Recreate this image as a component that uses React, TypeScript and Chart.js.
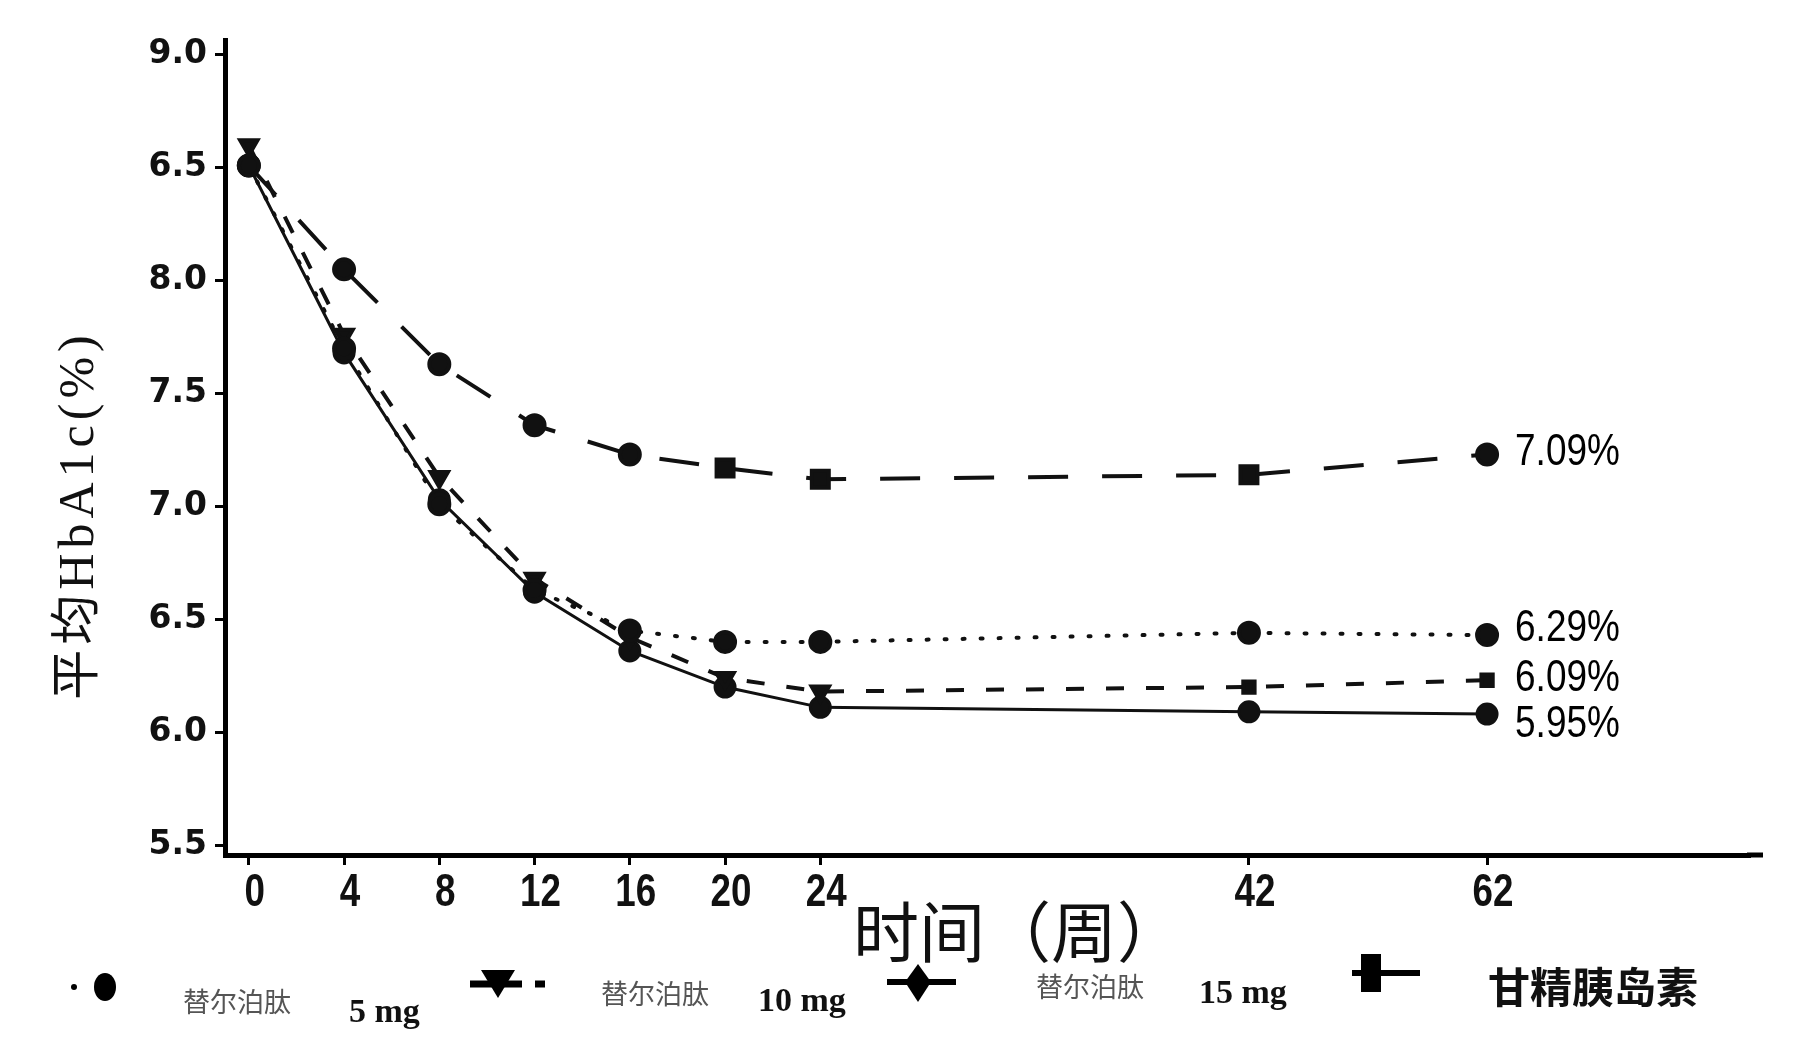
import React, { useEffect, useRef } from 'react';
import { Chart, registerables } from 'chart.js';

Chart.register(...registerables);

// ---- data ----
const weeks = ['0', '4', '8', '12', '16', '20', '24', '42', '62'];
// category slots of two weeks each, so the axis keeps the original spacing
const xLabels = [
  '0', '', '4', '', '8', '', '12', '', '16', '', '20', '', '24',
  '', '', '', '', '', '', '', '',
  '42', '', '', '', '',
  '62', '', '', '', '', '',
];
const yTicks = [5.5, 6.0, 6.5, 7.0, 7.5, 8.0, 8.5, 9.0];
const yTickLabels = ['5.5', '6.0', '6.5', '7.0', '7.5', '8.0', '6.5', '9.0'];

const tirz5mg = [8.51, 7.70, 7.01, 6.63, 6.45, 6.40, 6.40, 6.44, 6.43];
const tirz10mg = [8.60, 7.76, 7.13, 6.68, 6.42, 6.24, 6.18, 6.20, 6.23];
const tirz15mg = [8.51, 7.68, 7.03, 6.62, 6.36, 6.20, 6.11, 6.09, 6.08];
const glargine = [8.51, 8.05, 7.63, 7.36, 7.23, 7.17, 7.12, 7.14, 7.23];
const tirz10Markers = ['triangle', 'triangle', 'triangle', 'triangle', 'triangle', 'triangle', 'triangle', 'rect', 'rect'];
const glargineMarkers = ['circle', 'circle', 'circle', 'circle', 'circle', 'rect', 'rect', 'rect', 'circle'];

const endLabels = ['6.29%', '6.09%', '5.95%', '7.09%'];
const legendDrug = ['替尔泊肽', '替尔泊肽', '替尔泊肽', '甘精胰岛素'];
const legendDose = ['5 mg', '10 mg', '15 mg', ''];
const yTitle = '平均HbA1c(%)';
const xTitle = '时间（周）';

const toSlots = (vals: number[]) => xLabels.map((l) => {
  const k = l === '' ? -1 : weeks.indexOf(l);
  return k >= 0 ? vals[k] : null;
});
const weekIdx = (slot: number) => weeks.indexOf(xLabels[slot]);

const W = 1795;
const H = 1037;

export default function App() {
  const ref = useRef<HTMLCanvasElement | null>(null);

  useEffect(() => {
    if (!ref.current) return;
    const black = '#111';

    const overlay = {
      id: 'overlay',
      afterDatasetsDraw(chart: any) {
        const c = chart.ctx as CanvasRenderingContext2D;
        c.save();
        // end-of-line value labels (narrowed sans)
        const dy = [-6, -1, 11, -2];
        c.fillStyle = '#000';
        c.font = '44px "Liberation Sans", sans-serif';
        c.textAlign = 'left';
        c.textBaseline = 'middle';
        chart.data.datasets.forEach((_d: any, i: number) => {
          const meta = chart.getDatasetMeta(i);
          let last: any = null;
          meta.data.forEach((p: any, j: number) => {
            if (chart.data.datasets[i].data[j] != null) last = p;
          });
          if (last) {
            c.save();
            c.translate(last.x + 28, last.y + dy[i]);
            c.scale(0.84, 1);
            c.fillText(endLabels[i], 0, 0);
            c.restore();
          }
        });
        c.restore();
      },
      afterDraw(chart: any) {
        const c = chart.ctx as CanvasRenderingContext2D;
        const area = chart.chartArea;
        // extend the x axis line to the right
        c.save();
        c.strokeStyle = '#000';
        c.lineWidth = 5;
        c.beginPath(); c.moveTo(area.right - 2, area.bottom); c.lineTo(1763, area.bottom); c.stroke();
        c.restore();

        // x tick labels (tall narrow bold digits)
        const xs = chart.scales.x;
        c.save();
        c.fillStyle = '#111';
        c.font = 'bold 46px "Liberation Sans", sans-serif';
        c.textAlign = 'center';
        c.textBaseline = 'middle';
        xLabels.forEach((t, i) => {
          if (!t) return;
          c.save();
          c.translate(xs.getPixelForTick(i) + 6, 893);
          c.scale(0.8, 1);
          c.fillText(t, 0, 0);
          c.restore();
        });
        c.restore();

        c.save();
        // y title
        c.translate(80, 515);
        c.rotate(-Math.PI / 2);
        c.fillStyle = '#111';
        c.font = '50px "Liberation Serif", "Noto Sans CJK SC", serif';
        (c as any).letterSpacing = '5px';
        c.textAlign = 'center';
        c.textBaseline = 'middle';
        c.fillText(yTitle, 0, 0);
        c.restore();

        c.save();
        c.fillStyle = '#111';
        c.font = '66px "Noto Sans CJK SC", sans-serif';
        c.textAlign = 'center';
        c.textBaseline = 'middle';
        c.fillText(xTitle, 1018, 932);

        // legend
        c.fillStyle = '#000';
        c.strokeStyle = '#000';
        // item 1: dot + circle
        c.beginPath(); c.arc(74, 987, 3, 0, Math.PI * 2); c.fill();
        c.beginPath(); c.ellipse(105, 987, 11, 14, 0, 0, Math.PI * 2); c.fill();
        // item 2: line + down triangle + dash
        c.lineWidth = 7;
        c.beginPath(); c.moveTo(470, 984); c.lineTo(522, 984); c.stroke();
        c.beginPath(); c.moveTo(535, 984); c.lineTo(545, 984); c.stroke();
        c.beginPath(); c.moveTo(481, 970); c.lineTo(515, 970); c.lineTo(498, 998); c.closePath(); c.fill();
        // item 3: line + diamond
        c.lineWidth = 6;
        c.beginPath(); c.moveTo(887, 982); c.lineTo(956, 982); c.stroke();
        c.beginPath(); c.moveTo(918, 964); c.lineTo(931, 982); c.lineTo(918, 1002); c.lineTo(905, 982); c.closePath(); c.fill();
        // item 4: line + square
        c.beginPath(); c.moveTo(1352, 973); c.lineTo(1420, 973); c.stroke();
        c.fillRect(1361, 954, 20, 38);

        const drugX = [183, 601, 1036, 1488];
        const drugY = [1002, 994, 987, 987];
        const doseX = [349, 758, 1199];
        const doseY = [1013, 1002, 994];
        c.textAlign = 'left';
        c.textBaseline = 'middle';
        legendDrug.forEach((t, i) => {
          if (i < 3) {
            c.fillStyle = '#555';
            c.font = '27px "Noto Sans CJK SC", sans-serif';
          } else {
            c.fillStyle = '#111';
            c.font = 'bold 42px "Noto Sans CJK SC", sans-serif';
          }
          c.fillText(t, drugX[i], drugY[i]);
        });
        c.fillStyle = '#111';
        c.font = 'bold 34px "Liberation Serif", serif';
        legendDose.forEach((t, i) => {
          if (t) c.fillText(t, doseX[i], doseY[i]);
        });
        c.restore();
      },
    };

    const chart = new Chart(ref.current, {
      type: 'line',
      data: {
        labels: xLabels,
        datasets: [
          {
            label: '替尔泊肽 5 mg',
            data: toSlots(tirz5mg),
            borderColor: black,
            backgroundColor: black,
            borderWidth: 4,
            borderDash: [2, 16],
            borderCapStyle: 'round',
            pointStyle: 'circle',
            pointRadius: 10,
            spanGaps: true,
          },
          {
            label: '替尔泊肽 10 mg',
            data: toSlots(tirz10mg),
            borderColor: black,
            backgroundColor: black,
            borderWidth: 4,
            borderDash: [18, 22],
            pointStyle: (ctx: any) => tirz10Markers[weekIdx(ctx.dataIndex)] || 'triangle',
            pointRotation: 180,
            pointRadius: (ctx: any) => (tirz10Markers[weekIdx(ctx.dataIndex)] === 'rect' ? 8 : 10),
            spanGaps: true,
          },
          {
            label: '替尔泊肽 15 mg',
            data: toSlots(tirz15mg),
            borderColor: black,
            backgroundColor: black,
            borderWidth: 3,
            pointStyle: 'circle',
            pointRadius: 10,
            spanGaps: true,
          },
          {
            label: '甘精胰岛素',
            data: toSlots(glargine),
            borderColor: black,
            backgroundColor: black,
            borderWidth: 4,
            borderDash: [40, 34],
            pointStyle: (ctx: any) => glargineMarkers[weekIdx(ctx.dataIndex)] || 'circle',
            pointRadius: (ctx: any) => (glargineMarkers[weekIdx(ctx.dataIndex)] === 'rect' ? 12 : 10),
            spanGaps: true,
          },
        ],
      },
      options: {
        responsive: false,
        animation: false,
        layout: { padding: { top: 40, right: 46, left: 0, bottom: 0 } },
        plugins: {
          legend: { display: false },
          tooltip: { enabled: false },
        },
        scales: {
          x: {
            type: 'category',
            offset: true,
            afterFit: (s: any) => { s.height = H - 855; },
            border: { display: true, color: '#000', width: 5 },
            grid: {
              display: true,
              offset: false,
              drawOnChartArea: false,
              drawTicks: true,
              tickLength: 10,
              lineWidth: 3,
              color: (ctx: any) => (xLabels[ctx.index] ? '#000' : 'rgba(0,0,0,0)'),
            },
            ticks: {
              autoSkip: false,
              maxRotation: 0,
              minRotation: 0,
              padding: 6,
              color: 'rgba(0,0,0,0)',
              font: { family: '"Liberation Sans", sans-serif', weight: 'bold', size: 40 },
              callback: (_v: any, i: number) => xLabels[i],
            },
          },
          y: {
            type: 'linear',
            min: 5.456,
            max: 9.066,
            afterFit: (s: any) => { s.width = 225; },
            afterBuildTicks: (s: any) => { s.ticks = yTicks.map((v) => ({ value: v })); },
            border: { display: true, color: '#000', width: 5 },
            grid: {
              display: true,
              drawOnChartArea: false,
              drawTicks: true,
              tickLength: 10,
              lineWidth: 3,
              color: '#000',
            },
            ticks: {
              padding: 8,
              color: '#111',
              font: { family: '"DejaVu Sans", sans-serif', weight: 'bold', size: 33 },
              callback: (_v: any, i: number) => yTickLabels[i],
            },
          },
        },
      },
      plugins: [overlay],
    });

    return () => chart.destroy();
  }, []);

  return (
    <div style={{ position: 'fixed', left: 0, top: 0, width: W, height: H, background: '#fff' }}>
      <canvas ref={ref} width={W} height={H} style={{ width: W, height: H, display: 'block' }} />
    </div>
  );
}
